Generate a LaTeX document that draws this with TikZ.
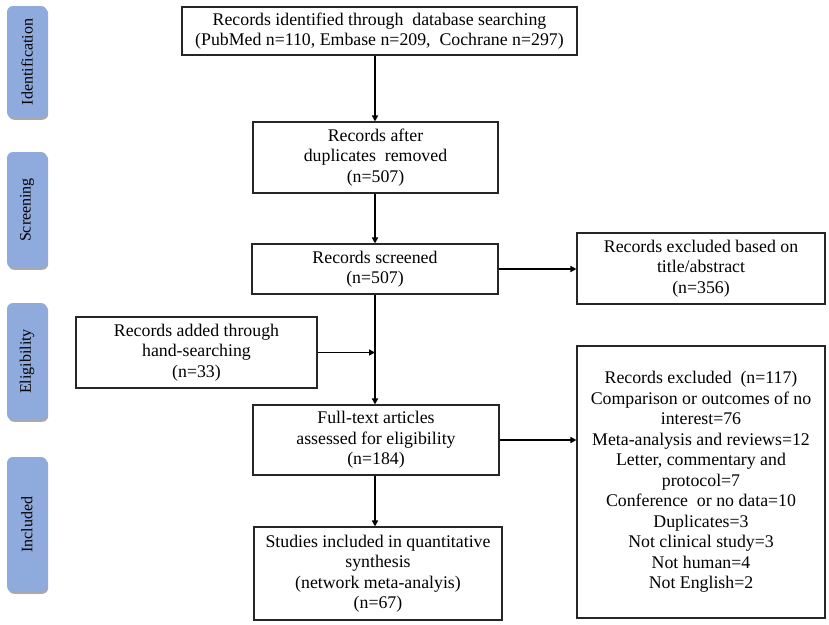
\documentclass[tikz,border=0pt]{standalone}
\usepackage{fontspec}
\setmainfont{Liberation Serif}
\usetikzlibrary{arrows.meta,shadows}
\definecolor{sidefill}{RGB}{143,170,220}
\definecolor{sideshadow}{RGB}{120,110,100}
\begin{document}
\begin{tikzpicture}[x=1pt,y=-1pt,
  box/.style={draw=black!85, line width=1.1pt, fill=white, align=center, inner sep=2pt,
    font=\fontsize{17.8}{20.5}\selectfont},
  side/.style={fill=sidefill, rounded corners=6pt, minimum width=40pt, inner sep=0pt,
    drop shadow={shadow xshift=1.2pt, shadow yshift=-1.8pt, fill=sideshadow, opacity=0.6},
    font=\fontsize{16}{18}\selectfont, rotate=90},
  arr/.style={line width=1.6pt, -{Triangle[length=6pt,width=6pt]}}]
\useasboundingbox (0,0) rectangle (829,624);
\fill[white] (0,0) rectangle (829,624);

% side labels
\node[side, minimum width=112pt, minimum height=40pt] (sid) at (27,62) {Identification};
\node[side, minimum width=116pt, minimum height=40pt] (ssc) at (27,210) {Screening};
\node[side, minimum width=117pt, minimum height=40pt] (sel) at (27,361.5) {Eligibility};
\node[side, minimum width=135pt, minimum height=40pt] (sin) at (27,524.5) {Included};

% boxes
\node[box, minimum width=395pt, minimum height=48pt] (top) at (379.5,31)
  {Records identified through\ \ database searching\\(PubMed n=110, Embase n=209,\ \ Cochrane n=297)};
\node[box, minimum width=245pt, minimum height=71pt] (after) at (375.5,157.5)
  {Records after\\duplicates\ \ removed\\(n=507)};
\node[box, minimum width=246pt, minimum height=50pt] (scr) at (375,269)
  {Records screened\\(n=507)};
\node[box, minimum width=248pt, minimum height=71pt] (exa) at (701,268.5)
  {Records excluded based on\\title/abstract\\(n=356)};
\node[box, minimum width=241pt, minimum height=71pt] (hand) at (196.5,352.5)
  {Records added through\\hand-searching\\(n=33)};
\node[box, minimum width=246pt, minimum height=70pt] (full) at (376,440)
  {Full-text articles\\assessed for eligibility\\(n=184)};
\node[box, minimum width=248pt, minimum height=93pt] (stud) at (378,573.5)
  {Studies included in quantitative\\synthesis\\(network meta-analyis)\\(n=67)};
\node[box, minimum width=248pt, minimum height=272pt] (exb) at (701,482)
  {Records excluded\ \ (n=117)\\Comparison or outcomes of no\\interest=76\\Meta-analysis and reviews=12\\Letter, commentary and\\protocol=7\\Conference\ \ or no data=10\\Duplicates=3\\Not clinical study=3\\Not human=4\\Not English=2};

% spine
\coordinate (spine) at (375,0);
\draw[arr] (top.south -| spine) -- (after.north -| spine);
\draw[arr] (after.south -| spine) -- (scr.north -| spine);
\draw[arr] (scr.south -| spine) -- (full.north -| spine);
\draw[arr] (full.south -| spine) -- (stud.north -| spine);
\draw[arr] (hand.east) -- (hand.east -| spine);
\draw[arr] (scr.east) -- (scr.east -| exa.west);
\draw[arr] (full.east) -- (full.east -| exb.west);
\end{tikzpicture}
\end{document}
